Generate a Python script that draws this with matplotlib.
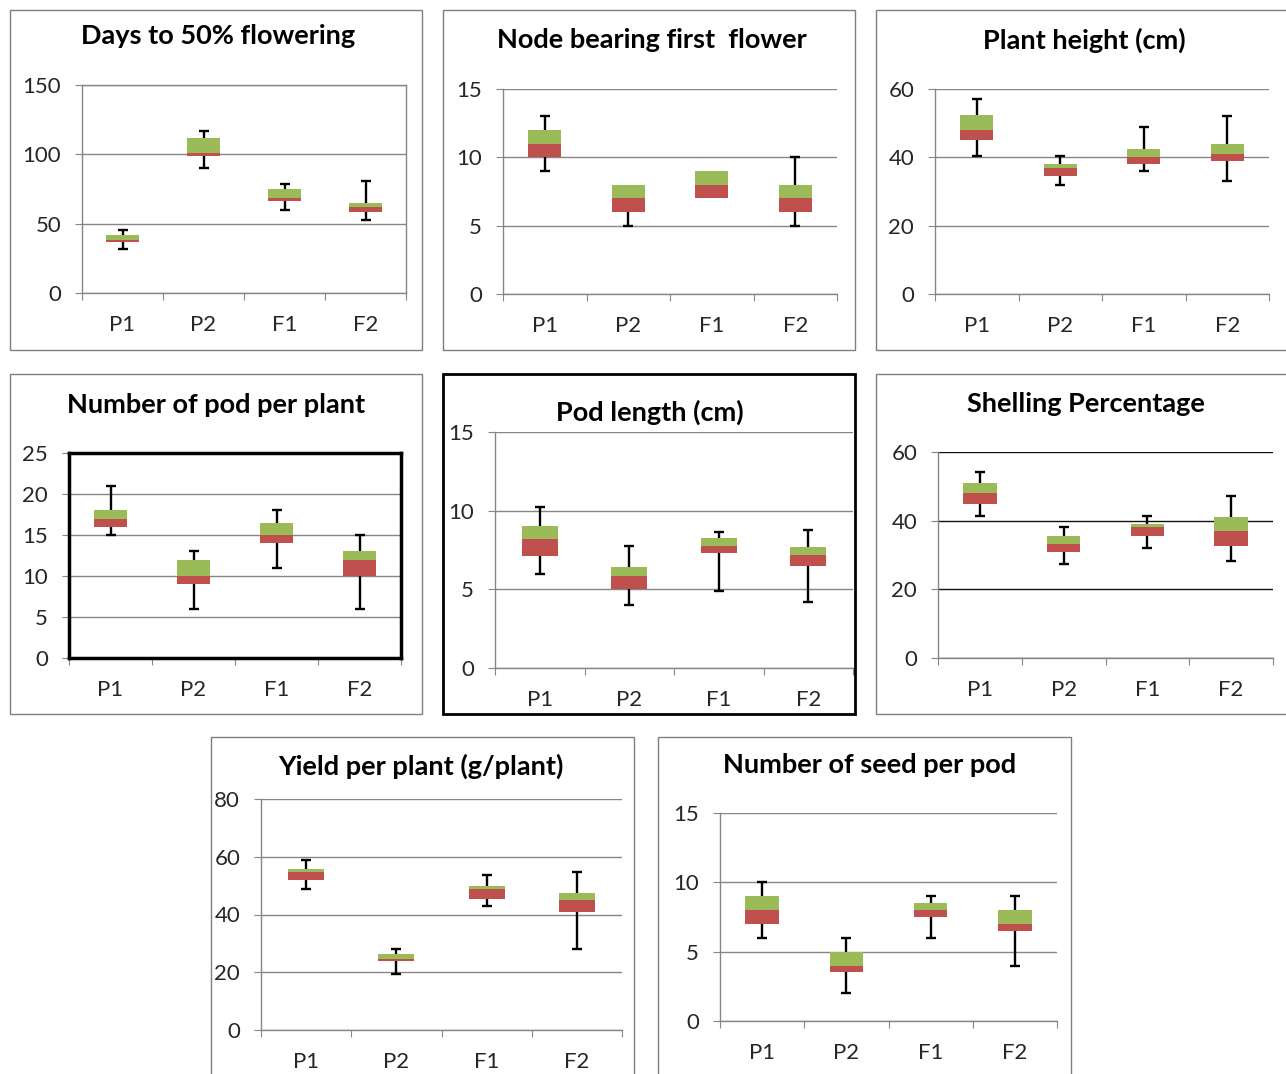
import matplotlib
matplotlib.use('Agg')
import matplotlib.pyplot as plt
from matplotlib.patches import Rectangle

W, H = 1286, 1074

categories = ['P1', 'P2', 'F1', 'F2']

# min, Q1, median, Q3, max for each of P1, P2, F1, F2
days_flowering = [[32, 36.5, 38.5, 41.5, 45.5], [90, 99, 101, 111.5, 117],
                  [60, 66.5, 68.5, 75, 78.5], [52.5, 58.5, 62, 65, 80.5]]
node_first_flower = [[9, 10, 11, 12, 13], [5, 6, 7, 8, 8],
                     [7, 7, 8, 9, 9], [5, 6, 7, 8, 10]]
plant_height = [[40.5, 45, 48, 52.5, 57], [32, 34.5, 37, 38, 40.5],
                [36, 38, 40, 42.5, 49], [33, 39, 41, 44, 52]]
pods_per_plant = [[15, 16, 17, 18, 21], [6, 9, 10, 12, 13],
                  [11, 14, 15, 16.5, 18], [6, 10, 12, 13, 15]]
pod_length = [[6, 7.1, 8.2, 9, 10.25], [4, 5, 5.85, 6.4, 7.75],
              [4.9, 7.3, 7.75, 8.25, 8.65], [4.2, 6.5, 7.2, 7.7, 8.8]]
shelling_pct = [[41.3, 45, 48, 51, 54.2], [27.3, 30.8, 33.2, 35.5, 38.2],
                [32.1, 35.6, 38.2, 39, 41.3], [28.3, 32.5, 37, 41.2, 47.2]]
yield_per_plant = [[48.9, 52, 54.8, 55.9, 59], [19.3, 23.8, 24.6, 26.2, 28.1],
                   [42.8, 45.3, 49, 49.7, 53.7], [28.1, 41, 44.9, 47.6, 54.8]]
seeds_per_pod = [[6, 7, 8, 9, 10], [2, 3.5, 4, 5, 6],
                 [6, 7.5, 8, 8.5, 9], [4, 6.5, 7, 8, 9]]

RED = '#c0504d'
GREEN = '#9bbb59'
GRID = '#868686'

plt.rcParams['font.family'] = ['Lato', 'DejaVu Sans']


def fig_rect(x0, y0, x1, y1):
    # pixel box (top-left origin) -> figure fraction [l, b, w, h]
    return [x0 / W, 1 - y1 / H, (x1 - x0) / W, (y1 - y0) / H]


def whisker(ax, x, a, b, cap_at):
    # only draw the whisker if it sticks out of the box
    if abs(b - a) < 1e-9:
        return
    ax.vlines(x, a, b, color='black', linewidth=1.7, zorder=2)
    ax.plot([x], [cap_at], marker='_', markersize=7, markeredgewidth=1.7,
            color='black', zorder=2)


fig = plt.figure(figsize=(W / 100, H / 100), dpi=100)

# title, data, ymax, step, panel box, axes box, title xy, style
panels = [
    ("Days to 50% flowering", days_flowering, 150, 50,
     (10, 10, 422, 350), (82, 85, 406, 293), (218, 36), 'box'),
    ("Node bearing first  flower", node_first_flower, 15, 5,
     (443, 10, 855, 350), (503, 89, 837, 294), (652, 40), ''),
    ("Plant height (cm)", plant_height, 60, 20,
     (876, 10, 1300, 350), (935, 89, 1269, 294), (1084, 40), ''),
    ("Number of pod per plant", pods_per_plant, 25, 5,
     (10, 374, 422, 714), (69, 453, 401, 658), (216, 405), 'thick'),
    ("Pod length (cm)", pod_length, 15, 5,
     (443, 374, 855, 714), (495, 432, 853, 668), (650, 412), 'frame'),
    ("Shelling Percentage", shelling_pct, 60, 20,
     (876, 374, 1300, 714), (938, 452, 1273, 658), (1086, 404), 'dark'),
    ("Yield per plant (g/plant)", yield_per_plant, 80, 20,
     (211, 737, 634, 1090), (261, 799, 622, 1030), (421, 766), ''),
    ("Number of seed per pod", seeds_per_pod, 15, 5,
     (658, 737, 1071, 1090), (720, 813, 1057, 1021), (870, 765), ''),
]

for title, data, ymax, step, pbox, abox, tpos, style in panels:
    # chart area border
    px0, py0, px1, py1 = pbox
    fig.patches.append(Rectangle((px0 / W, 1 - py1 / H), (px1 - px0) / W, (py1 - py0) / H,
                                 transform=fig.transFigure, fill=False,
                                 edgecolor='black' if style == 'frame' else '#7f7f7f',
                                 linewidth=2 if style == 'frame' else 1, zorder=0))

    ax = fig.add_axes(fig_rect(*abox))
    xs = list(range(len(categories)))
    lo = [d[0] for d in data]
    q1 = [d[1] for d in data]
    med = [d[2] for d in data]
    q3 = [d[3] for d in data]
    hi = [d[4] for d in data]

    for i in xs:
        whisker(ax, i, lo[i], q1[i], lo[i])
        whisker(ax, i, q3[i], hi[i], hi[i])
    ax.bar(xs, [m - a for m, a in zip(med, q1)], bottom=q1, width=0.4, color=RED,
           linewidth=0, zorder=3)
    ax.bar(xs, [b - m for b, m in zip(q3, med)], bottom=med, width=0.4, color=GREEN,
           linewidth=0, zorder=3)

    ax.set_xlim(-0.5, len(categories) - 0.5)
    ax.set_ylim(0, ymax)
    ax.set_yticks(range(0, ymax + 1, step))
    ax.set_xticks([i - 0.5 for i in range(len(categories) + 1)])
    ax.set_xticklabels([])
    ax.set_xticks(xs, minor=True)
    ax.set_xticklabels(categories, minor=True)
    ax.tick_params(axis='x', which='major', direction='out', length=5, color=GRID)
    ax.tick_params(axis='x', which='minor', length=0, pad=16, labelsize=16, labelcolor='#262626')
    ax.tick_params(axis='y', direction='out', length=5, color=GRID, pad=10,
                   labelsize=16, labelcolor='#262626')

    ax.set_axisbelow(True)
    ax.yaxis.grid(True, color='#111111' if style == 'dark' else GRID, linewidth=1)
    ax.patch.set_alpha(0)

    for side in ['left', 'bottom', 'top', 'right']:
        ax.spines[side].set_color(GRID)
        ax.spines[side].set_linewidth(1)
    if style == 'thick':
        for side in ['left', 'bottom', 'top', 'right']:
            ax.spines[side].set_color('black')
            ax.spines[side].set_linewidth(2.5)
    elif style != 'box':
        ax.spines['top'].set_visible(False)
        ax.spines['right'].set_visible(False)

    fig.text(tpos[0] / W, 1 - tpos[1] / H, title, ha='center', va='center',
             fontsize=19.5, fontweight='bold', color='black')

fig.savefig('out.png', dpi=100)
